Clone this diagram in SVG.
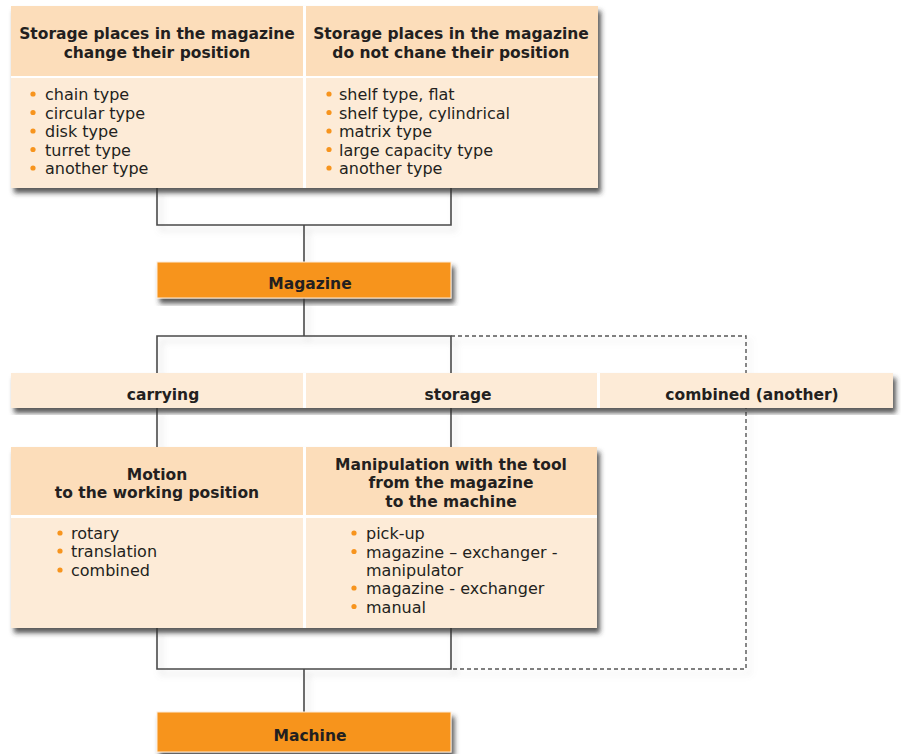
<svg xmlns="http://www.w3.org/2000/svg" width="901" height="754" viewBox="0 0 901 754">
<defs>
<filter id="sh" x="-5%" y="-10%" width="115%" height="130%">
<feDropShadow dx="3" dy="5" stdDeviation="2.8" flood-color="#333" flood-opacity="0.8"/>
</filter>
<filter id="lsh" x="-10%" y="-10%" width="120%" height="130%">
<feDropShadow dx="4" dy="5" stdDeviation="3" flood-color="#888" flood-opacity="0.35"/>
</filter>
<style>
.hd{fill:#FCDDBA}
.bd{fill:#FDEBD7}
.or{fill:#F7941D;stroke:#FDEBD7;stroke-width:1}
.ln{fill:none;stroke:#4a4a4a;stroke-width:1.6}
.ds{fill:none;stroke:#555;stroke-width:1.4;stroke-dasharray:4 3}
.t{font-family:"DejaVu Sans","Liberation Sans",sans-serif;fill:#231F20}
.b{font-weight:bold;font-size:15.5px;text-anchor:middle}
.r{font-size:16px}
.bl{fill:#F7941D}
</style>
</defs>
<rect width="901" height="754" fill="#fff"/>
<g id="connectors" filter="url(#lsh)">
<path class="ln" d="M157,188 V225 H451 V188 M304,225 V262"/>
<path class="ln" d="M304,298 V336 M157,373 V336 H451 V373"/>
<path class="ds" d="M451,336 H746 V669 H451"/>
<path class="ln" d="M157,408 V447 M451,408 V447"/>
<path class="ln" d="M157,628 V669 H451 V628 M304,669 V712"/>
</g>
<g id="top-block">
<rect x="11" y="6" width="587" height="182" fill="#fff" filter="url(#sh)"/>
<g id="top-left">
<rect class="hd" x="11" y="6" width="292" height="70"/>
<rect class="bd" x="11" y="78" width="292" height="110"/>
<text class="t b" x="157" y="39">Storage places in the magazine</text>
<text class="t b" x="157" y="58">change their position</text>
<g class="bl"><circle cx="33" cy="94" r="2.6"/><circle cx="33" cy="112.5" r="2.6"/><circle cx="33" cy="131" r="2.6"/><circle cx="33" cy="149.5" r="2.6"/><circle cx="33" cy="168" r="2.6"/></g>
<text class="t r" x="45" y="100">chain type</text>
<text class="t r" x="45" y="118.5">circular type</text>
<text class="t r" x="45" y="137">disk type</text>
<text class="t r" x="45" y="155.5">turret type</text>
<text class="t r" x="45" y="174">another type</text>
</g>
<g id="top-right">
<rect class="hd" x="306" y="6" width="292" height="70"/>
<rect class="bd" x="306" y="78" width="292" height="110"/>
<text class="t b" x="451" y="39">Storage places in the magazine</text>
<text class="t b" x="451" y="58">do not chane their position</text>
<g class="bl"><circle cx="329" cy="94" r="2.6"/><circle cx="329" cy="112.5" r="2.6"/><circle cx="329" cy="131" r="2.6"/><circle cx="329" cy="149.5" r="2.6"/><circle cx="329" cy="168" r="2.6"/></g>
<text class="t r" x="339" y="100">shelf type, flat</text>
<text class="t r" x="339" y="118.5">shelf type, cylindrical</text>
<text class="t r" x="339" y="137">matrix type</text>
<text class="t r" x="339" y="155.5">large capacity type</text>
<text class="t r" x="339" y="174">another type</text>
</g>
</g>
<g id="magazine">
<rect class="or" x="157" y="262" width="294" height="36" filter="url(#sh)"/>
<text class="t b" x="310" y="289">Magazine</text>
</g>
<g id="middle-row">
<rect x="11" y="373" width="882" height="35" fill="#fff" filter="url(#sh)"/>
<g id="carrying">
<rect class="bd" x="11" y="373" width="292" height="35"/>
<text class="t b" x="163" y="400">carrying</text>
</g>
<g id="storage">
<rect class="bd" x="306" y="373" width="291" height="35"/>
<text class="t b" x="458" y="400">storage</text>
</g>
<g id="combined">
<rect class="bd" x="600" y="373" width="293" height="35"/>
<text class="t b" x="752" y="400">combined (another)</text>
</g>
</g>
<g id="bottom-block">
<rect x="11" y="447" width="586" height="181" fill="#fff" filter="url(#sh)"/>
<g id="motion">
<rect class="hd" x="11" y="447" width="292" height="68"/>
<rect class="bd" x="11" y="518" width="292" height="110"/>
<text class="t b" x="157" y="480">Motion</text>
<text class="t b" x="157" y="498">to the working position</text>
<g class="bl"><circle cx="60" cy="533" r="2.6"/><circle cx="60" cy="551" r="2.6"/><circle cx="60" cy="570" r="2.6"/></g>
<text class="t r" x="71" y="539">rotary</text>
<text class="t r" x="71" y="557">translation</text>
<text class="t r" x="71" y="576">combined</text>
</g>
<g id="manipulation">
<rect class="hd" x="306" y="447" width="291" height="68"/>
<rect class="bd" x="306" y="518" width="291" height="110"/>
<text class="t b" x="451" y="470">Manipulation with the tool</text>
<text class="t b" x="451" y="488">from the magazine</text>
<text class="t b" x="451" y="507">to the machine</text>
<g class="bl"><circle cx="354" cy="533" r="2.6"/><circle cx="354" cy="551.5" r="2.6"/><circle cx="354" cy="588" r="2.6"/><circle cx="354" cy="606.5" r="2.6"/></g>
<text class="t r" x="366" y="539">pick-up</text>
<text class="t r" x="366" y="557.5">magazine – exchanger -</text>
<text class="t r" x="366" y="576">manipulator</text>
<text class="t r" x="366" y="594">magazine - exchanger</text>
<text class="t r" x="366" y="612.5">manual</text>
</g>
</g>
<g id="machine">
<rect class="or" x="157" y="712" width="294" height="40" filter="url(#sh)"/>
<text class="t b" x="310" y="741">Machine</text>
</g>
</svg>
